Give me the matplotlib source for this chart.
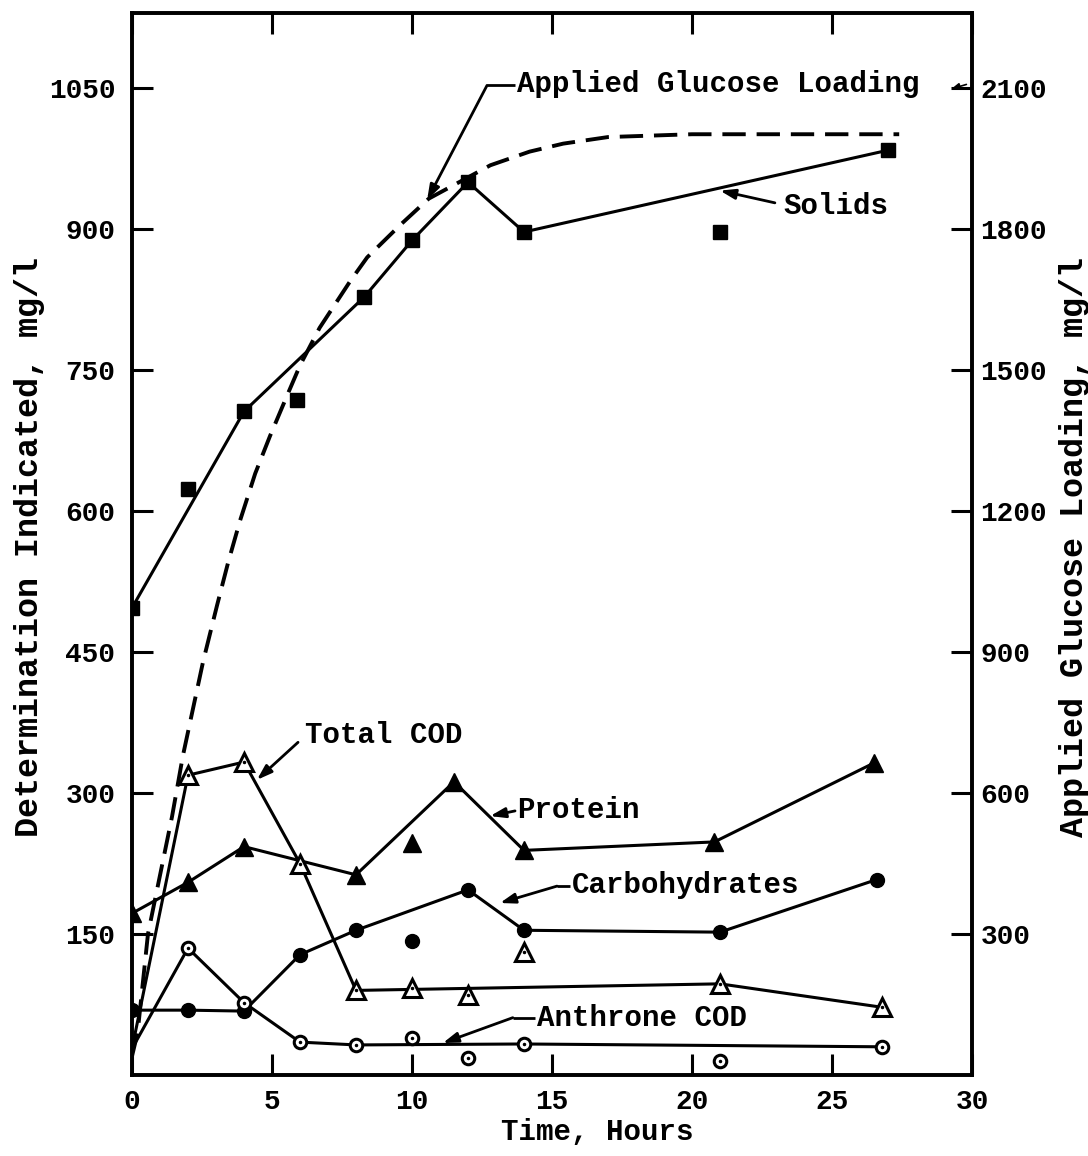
import matplotlib
matplotlib.use("Agg")
import matplotlib.pyplot as plt

FONT = ["Liberation Mono", "DejaVu Sans Mono"]
plt.rcParams["font.family"] = FONT

# --- data (time in hours, concentrations in mg/l) ---
x_ticks = [0, 5, 10, 15, 20, 25, 30]
left_ticks = [150, 300, 450, 600, 750, 900, 1050]
right_ticks = [300, 600, 900, 1200, 1500, 1800, 2100]

solids_t = [0, 4, 8.3, 10, 12, 14, 27]
solids_v = [497, 706, 828, 888, 950, 897, 984]
solids_extra_t = [2, 5.9, 21]
solids_extra_v = [624, 718, 897]

protein_t = [0, 2, 4, 8, 11.5, 14, 20.8, 26.5]
protein_v = [172, 205, 243, 213, 312, 239, 248, 332]
protein_extra_t = [10]
protein_extra_v = [247]

carb_t = [0, 2, 4, 6, 8, 12, 14, 21, 26.6]
carb_v = [69, 69, 68, 128, 154, 197, 154, 152, 208]
carb_extra_t = [10]
carb_extra_v = [143]

tcod_t = [0, 2, 4, 6, 8, 21, 26.8]
tcod_v = [28, 319, 333, 225, 90, 97, 72]
tcod_extra_t = [10, 12, 14]
tcod_extra_v = [93, 85, 131]

anth_t = [0, 2, 4, 6, 8, 14, 26.8]
anth_v = [28, 135, 77, 35, 32, 33, 30]
anth_extra_t = [10, 12, 21]
anth_extra_v = [39, 18, 15]

# applied glucose loading, right-hand scale
gluc_t = [0, 0.2, 0.57, 1.43, 1.82, 2.54, 3.04, 3.43, 3.86, 4.4, 4.93, 5.64,
          6.0, 6.7, 7.8, 8.4, 9.6, 10.6, 12.8, 14.2, 15.4, 17.0, 20.0, 27.4]
gluc_v = [40, 90, 300, 550, 680, 880, 1000, 1090, 1180, 1280, 1360, 1460,
          1510, 1590, 1690, 1740, 1810, 1865, 1936, 1965, 1982, 1996, 2002, 2002]

W, H = 1088, 1156
fig = plt.figure(figsize=(W / 100, H / 100), dpi=100)
L, R, T, B = 132, 972, 13, 1075
ax = fig.add_axes([L / W, 1 - B / H, (R - L) / W, (B - T) / H])
ax2 = ax.twinx()

YTOP = 1130
ax.set_xlim(0, 30)
ax.set_ylim(0, YTOP)
ax2.set_ylim(0, 2 * YTOP)

LW = 2.2
K = "black"

# glucose loading (dashed)
ax2.plot(gluc_t, gluc_v, color=K, lw=2.8, ls=(0, (6, 2.8)), zorder=2)

# solids
ax.plot(solids_t, solids_v, color=K, lw=LW, marker="s", ms=10, zorder=3)
ax.plot(solids_extra_t, solids_extra_v, ls="none", color=K, marker="s", ms=10, zorder=3)

# protein
ax.plot(protein_t, protein_v, color=K, lw=LW, marker="^", ms=13, zorder=3)
ax.plot(protein_extra_t, protein_extra_v, ls="none", color=K, marker="^", ms=13, zorder=3)

# carbohydrates
ax.plot(carb_t, carb_v, color=K, lw=LW, marker="o", ms=10, zorder=3)
ax.plot(carb_extra_t, carb_extra_v, ls="none", color=K, marker="o", ms=10, zorder=3)

# total COD (open triangles with a centre dot)
ax.plot(tcod_t, tcod_v, color=K, lw=LW, zorder=3)
tri_t = tcod_t[1:] + tcod_extra_t
tri_v = tcod_v[1:] + tcod_extra_v
ax.plot(tri_t, tri_v, ls="none", marker="^", ms=13, mfc="white", mec=K, mew=2.2, zorder=4)
ax.plot(tri_t, tri_v, ls="none", marker=".", ms=3, color=K, zorder=5)

# anthrone COD (open circles with a centre dot)
ax.plot(anth_t, anth_v, color=K, lw=LW, zorder=3)
cir_t = anth_t[1:] + anth_extra_t
cir_v = anth_v[1:] + anth_extra_v
ax.plot(cir_t, cir_v, ls="none", marker="o", ms=9, mfc="white", mec=K, mew=2.2, zorder=4)
ax.plot(cir_t, cir_v, ls="none", marker=".", ms=3, color=K, zorder=5)

# --- annotations ---
TFS = 21
ARW = dict(arrowstyle="-|>,head_length=0.9,head_width=0.3", color=K, lw=2.0,
           shrinkA=0, shrinkB=0)
tkw = dict(fontsize=TFS, fontweight="bold", va="center", ha="left", color=K)

def label(text, tx, ty, tail, tip, elbow=None):
    ax.text(tx, ty, text, **tkw)
    if elbow is not None:
        ax.plot([elbow[0], tail[0]], [elbow[1], tail[1]], color=K, lw=2.0,
                solid_capstyle="butt")
        tail = elbow
    ax.annotate("", xy=tip, xytext=tail, arrowprops=ARW)

label("Applied Glucose Loading", 13.75, 1054, (13.68, 1053), (10.54, 931),
      elbow=(12.68, 1053))
label("Solids", 23.25, 925, (22.96, 928), (21.0, 941))
label("Total COD", 6.18, 362, (5.93, 354), (4.46, 314))
label("Protein", 13.75, 282, (13.68, 281), (12.79, 275.5))
label("Carbohydrates", 15.71, 202, (15.65, 201), (13.14, 183), elbow=(15.18, 201))
label("Anthrone COD", 14.46, 61, (14.4, 61), (11.1, 34), elbow=(13.6, 61))
ax.annotate("", xy=(29.25, 1049), xytext=(29.8, 1054),
            arrowprops=dict(arrowstyle="-|>,head_length=0.5,head_width=0.2",
                            color=K, lw=1.2, shrinkA=0, shrinkB=0))

# --- axes styling ---
for a in (ax, ax2):
    for s in a.spines.values():
        s.set_linewidth(2.6)

ax.set_xticks(x_ticks)
ax.set_xticklabels([str(v) for v in x_ticks])
ax.set_yticks(left_ticks)
ax.set_yticklabels([str(v) for v in left_ticks])
ax2.set_yticks(right_ticks)
ax2.set_yticklabels([str(v) for v in right_ticks])

TLF = 20
ax.tick_params(axis="x", which="major", direction="in", length=15, width=2.2,
               top=True, bottom=True, labelsize=TLF, pad=10)
ax.tick_params(axis="y", which="major", direction="in", length=15, width=2.2,
               left=True, right=False, labelsize=TLF, pad=12)
ax2.tick_params(axis="y", which="major", direction="in", length=15, width=2.2,
                right=True, labelsize=TLF, pad=6)
for lab in ax.get_xticklabels() + ax.get_yticklabels() + ax2.get_yticklabels():
    lab.set_fontweight("bold")

fig.text(597 / W, 1 - 1132 / H, "Time, Hours", fontsize=TFS, fontweight="bold",
         ha="center", va="center")
fig.text(30 / W, 1 - 547 / H, "Determination Indicated, mg/l", fontsize=24,
         fontweight="bold", rotation=90, ha="center", va="center")
fig.text(1074 / W, 1 - 547 / H, "Applied Glucose Loading, mg/l", fontsize=24,
         fontweight="bold", rotation=90, ha="center", va="center")

fig.savefig("out.png", dpi=100, facecolor="white")
